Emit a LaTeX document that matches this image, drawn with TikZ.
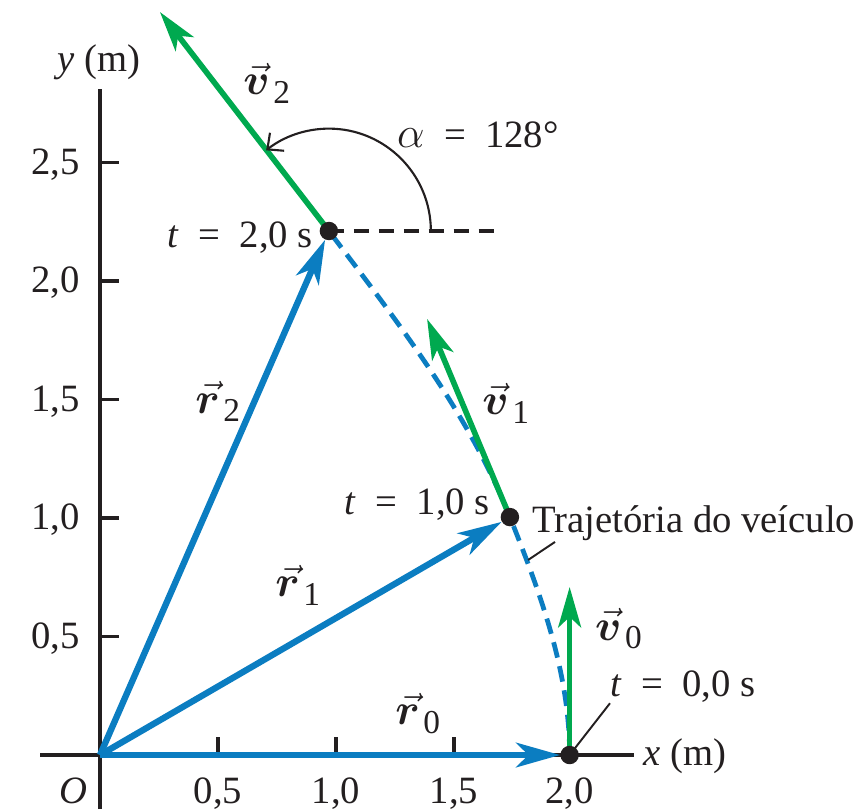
\documentclass[tikz,border=0pt]{standalone}
\usepackage{fontspec}
\setmainfont{Liberation Serif}
\usepackage{bm}
\usetikzlibrary{arrows.meta}
\definecolor{vblue}{RGB}{11,125,193}
\definecolor{vgreen}{RGB}{0,169,79}
\definecolor{ink}{RGB}{35,31,32}
\newcommand\veclab[2]{{\fontsize{26}{30}\selectfont$\vec{\bm{#1}}$}\kern2pt\raisebox{-0.22em}{\fontsize{19}{19}\selectfont #2}}
\newcommand\eqsp{\hspace{0.5em}}
\pgfdeclarelayer{bg}
\pgfsetlayers{bg,main}
\begin{document}
\begin{tikzpicture}[x=4.72cm, y=4.74cm, font=\fontsize{22}{26}\selectfont,
  axisline/.style={draw=ink, line width=1.9pt},
  tickmark/.style={draw=ink, line width=1.9pt},
  ticklab/.style={inner sep=0pt, text=ink, anchor=base},
  txt/.style={inner sep=0pt, text=ink},
  dot/.style={circle, fill=ink, minimum size=10.5pt, inner sep=0pt},
  posvec/.style={draw=vblue, line width=3.6pt, -{Stealth[length=25pt,width=14pt,inset=7pt]}},
  velvec/.style={draw=vgreen, line width=3.2pt, -{Stealth[length=23pt,width=13pt,inset=6pt]}},
  trajline/.style={draw=vblue, line width=2.7pt, dash pattern=on 9pt off 5pt},
  refline/.style={draw=ink, line width=1.9pt, dash pattern=on 8.5pt off 5.7pt},
  leader/.style={draw=ink, line width=1.1pt},
  anglearc/.style={draw=ink, line width=1.2pt, -{Straight Barb[length=7pt,width=13pt]}}
]
\useasboundingbox (-0.4237,-0.2278) rectangle (3.2373,3.1857);

% named points
\coordinate (O) at (0,0);
\node[dot] (p0) at (1.99,0) {};
\node[dot] (p1) at (1.737,1.004) {};
\node[dot] (p2) at (0.970,2.211) {};
\coordinate (ytop) at (0,2.81);
\coordinate (ybot) at (0,-0.2278);
\coordinate (xleft) at (-0.254,0);
\coordinate (xright) at (2.263,0);
\coordinate (v0tip) at (1.99,0.709);
\coordinate (v1tip) at (1.386,1.840);
\coordinate (v2tip) at (0.254,3.135);
\coordinate (href) at (1.695,2.211);
\coordinate (trajpt) at (1.814,0.823);
\coordinate (trajend) at (1.928,0.899);

% labels
\foreach \v/\t [count=\i] in {0.5/{0,5},1/{1,0},1.5/{1,5},2/{2,0},2.5/{2,5}}{
  \node[ticklab, anchor=base east] (ylab\i) at (-0.0847,\v-0.0485) {\t};
}
\foreach \v/\t [count=\i] in {0.5/{0,5},1/{1,0},1.5/{1,5},1.99/{2,0}}{
  \node[ticklab] (xlab\i) at (\v,-0.2025) {\t};
}
\node[ticklab] (olab) at (-0.114,-0.2025) {\textit{O}};
\node[txt, anchor=base west] (ylabel) at (-0.182,2.886) {\textit{y} (m)};
\node[txt, anchor=base west] (xlabel) at (2.301,-0.046) {\textit{x} (m)};
\node[txt, anchor=base east] (t2lab) at (0.903,2.143) {\textit{t}\eqsp=\eqsp 2,0 s};
\node[txt, anchor=base west] (alab) at (1.258,2.565) {{\fontsize{24}{28}\selectfont$\alpha$}\eqsp=\eqsp 128°};
\node[txt, anchor=base east] (t1lab) at (1.653,1.013) {\textit{t}\eqsp=\eqsp 1,0 s};
\node[txt, anchor=base west] (t0lab) at (2.161,0.245) {\textit{t}\eqsp=\eqsp 0,0 s};
\node[txt, anchor=base west] (trajlab) at (1.831,0.937) {Trajetória do veículo};
\node[txt, anchor=base west] (r0lab) at (1.250,0.127) {\veclab{r}{0}};
\node[txt, anchor=base west] (r1lab) at (0.742,0.667) {\veclab{r}{1}};
\node[txt, anchor=base west] (r2lab) at (0.403,1.443) {\veclab{r}{2}};
\node[txt, anchor=base west] (v0lab) at (2.097,0.485) {\veclab{v}{0}};
\node[txt, anchor=base west] (v1lab) at (1.619,1.435) {\veclab{v}{1}};
\node[txt, anchor=base west] (v2lab) at (0.606,2.785) {\veclab{v}{2}};

\begin{pgfonlayer}{bg}
  % axes
  \draw[axisline] (ybot) -- (ytop);
  \draw[axisline] (xleft) -- (xright);
  \foreach \v in {0.5,1,1.5,2,2.5}{\draw[tickmark] (0,\v) -- (0.08,\v);}
  \foreach \v in {0.5,1,1.5,1.99}{\draw[tickmark] (\v,0) -- (\v,0.076);}
  % trajectory
  \draw[trajline] (p0.center) .. controls (1.99,0.35) and (1.867,0.679) .. (p1.center)
                  .. controls (1.560,1.447) and (1.258,1.831) .. (p2.center);
  % position vectors
  \draw[posvec] (O) -- (p0);
  \draw[posvec] (O) -- (p1);
  \draw[posvec] (O) -- (p2);
  % velocity vectors
  \draw[velvec] (p0.center) -- (v0tip);
  \draw[velvec] (p1.center) -- (v1tip);
  \draw[velvec] (p2.center) -- (v2tip);
  % angle
  \draw[refline] (p2.center) -- (href);
  \draw[anglearc] ([shift={(0:0.432)}]p2.center) arc[start angle=0,end angle=128,radius=0.432];
  % leaders
  \draw[leader] (p0.center) -- (t0lab.south west);
  \draw[leader] (trajpt) -- (trajend);
\end{pgfonlayer}
\end{tikzpicture}
\end{document}
